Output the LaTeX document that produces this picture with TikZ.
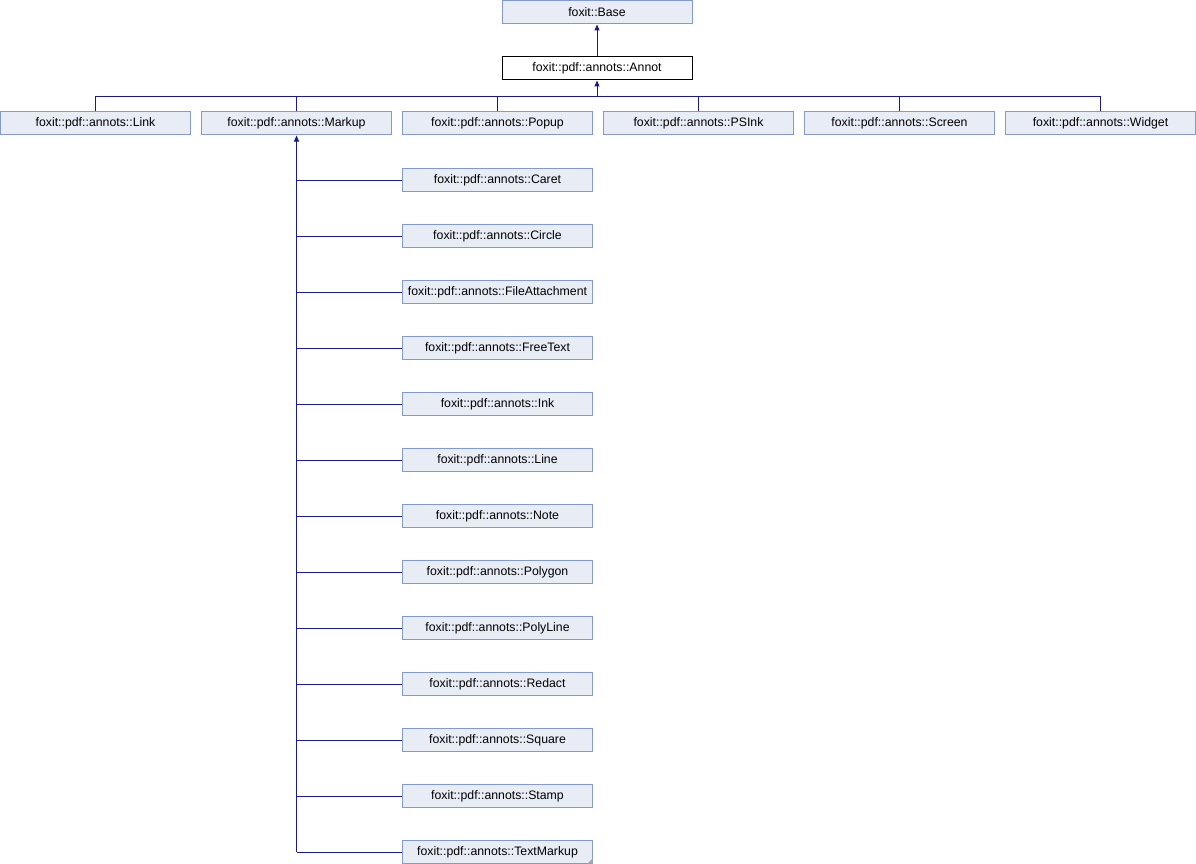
\documentclass[tikz,border=0pt]{standalone}
\usepackage{fontspec}
\setmainfont{Liberation Sans}
\usetikzlibrary{arrows.meta}
\definecolor{boxfill}{HTML}{E8ECF5}
\definecolor{boxedge}{HTML}{8499CC}
\definecolor{linec}{HTML}{1A1A8F}
\tikzset{
  cls/.style={draw=boxedge, fill=boxfill, line width=1pt, minimum width=190pt, minimum height=23pt, inner sep=0pt, font=\fontsize{12.3}{14}\selectfont},
  curcls/.style={cls, draw=black, fill=white},
  inh/.style={draw=linec, line width=1pt, -{Triangle[length=6pt,width=5pt]}},
  lnk/.style={draw=linec, line width=1pt}
}
\begin{document}
\begin{tikzpicture}[x=1pt,y=-1pt]
\useasboundingbox (0,0) rectangle (1196,864);
\node[cls] (base) at (597,12.5) {foxit::Base};
\node[curcls] (annot) at (597,68.5) {foxit::pdf::annots::Annot};
\node[cls] (link) at (95.5,123.5) {foxit::pdf::annots::Link};
\node[cls] (markup) at (296.5,123.5) {foxit::pdf::annots::Markup};
\node[cls] (popup) at (497.5,123.5) {foxit::pdf::annots::Popup};
\node[cls] (psink) at (698.5,123.5) {foxit::pdf::annots::PSInk};
\node[cls] (screen) at (899.5,123.5) {foxit::pdf::annots::Screen};
\node[cls] (widget) at (1100.5,123.5) {foxit::pdf::annots::Widget};
\foreach \n/\t [count=\i from 0] in {caret/Caret,circle/Circle,fileatt/FileAttachment,freetext/FreeText,ink/Ink,line/Line,note/Note,polygon/Polygon,polyline/PolyLine,redact/Redact,square/Square,stamp/Stamp,textmarkup/TextMarkup}{
  \node[cls] (\n) at (497.5,{180+56*\i}) {foxit::pdf::annots::\t};
}
\fill[gray!70] (textmarkup.south east) ++(-0.5,-0.5) -- ++(0,-5) -- ++(-5,5) -- cycle;
\draw[inh] (annot.north) -- (base.south);
\coordinate (bus) at (597,97);
\draw[inh] (bus) -- (annot.south);
\draw[lnk] (link.north) |- (bus);
\draw[lnk] (widget.north) |- (bus);
\foreach \n in {markup,popup,psink,screen}{
  \draw[lnk] (\n.north) -- (\n.north |- bus);
}
\coordinate (mbot) at (296.5,852);
\draw[inh] (mbot) -- (markup.south);
\foreach \n in {caret,circle,fileatt,freetext,ink,line,note,polygon,polyline,redact,square,stamp,textmarkup}{
  \draw[lnk] (\n.west) -- (\n.west -| mbot);
}
\end{tikzpicture}
\end{document}
